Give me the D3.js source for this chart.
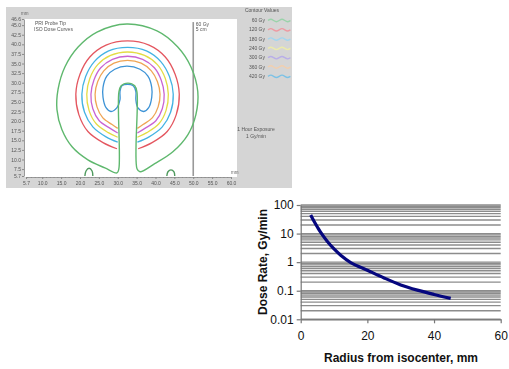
<!DOCTYPE html>
<html>
<head>
<meta charset="utf-8">
<script src="https://cdn.jsdelivr.net/npm/d3@7"></script>
<style>
  html, body { margin: 0; padding: 0; background: #fff; }
  svg { display: block; font-family: "Liberation Sans", Arial, sans-serif; }
</style>
</head>
<body>
<svg id="chart" width="509" height="369"></svg>
<script>
// ---- iso dose contour panel (all positions in mm) ----
const contourLabels = ['60 Gy', '120 Gy', '180 Gy', '240 Gy', '300 Gy', '360 Gy', '420 Gy'];
const contourColors = ['#5fb86e', '#e4565f', '#43b3e3', '#e3dc45', '#c964d2', '#efa455', '#3d93d6'];
const legendColors = ['#9ad3aa', '#ee9aa2', '#a3d6ef', '#ecebab', '#b9aee8', '#f2cfae', '#7cc2e6'];
const xTicksMm = [5.7, 10, 15, 20, 25, 30, 35, 40, 45, 50, 55, 60];
const yTicksMm = [5.7, 7.5, 10, 12.5, 15, 17.5, 20, 22.5, 25, 27.5, 30, 32.5, 35, 37.5, 40, 42.5, 45, 46.6];

// 60 Gy line: outer ring joined to the probe outline
const contour60 = [[29.8, 6.5], [26.6, 7.8], [22.1, 9.9], [17.9, 13.3], [15.2, 17.8], [13.9, 23.0],
  [14.2, 28.3], [16.0, 34.1], [19.5, 39.3], [24.5, 43.2], [32.4, 45.3], [40.4, 43.5], [45.9, 39.3],
  [49.4, 34.1], [51.2, 27.7], [50.7, 21.7], [48.6, 16.5], [44.6, 12.0], [39.8, 8.9], [35.9, 6.8],
  [35.1, 7.6], [35.1, 27.5], [34.5, 29.2], [32.7, 29.9], [30.9, 29.2], [30.3, 27.5], [30.3, 7.6]];
const contour120 = [[29.8, 12.8], [26.1, 14.4], [22.1, 17.3], [19.7, 21.7], [18.9, 27.0], [20.0, 32.2],
  [22.6, 36.7], [26.9, 39.8], [32.6, 40.9], [38.3, 39.8], [42.6, 36.7], [45.2, 32.2], [46.3, 27.0],
  [45.5, 21.7], [43.1, 17.3], [39.1, 14.4], [35.4, 12.8]];
const contour180 = [[30.0, 14.5], [26.9, 15.9], [23.4, 18.5], [21.2, 22.3], [20.5, 27.0], [21.5, 31.6],
  [23.8, 35.5], [27.6, 38.3], [32.6, 39.2], [37.6, 38.3], [41.4, 35.5], [43.7, 31.6], [44.7, 27.0],
  [44.0, 22.3], [41.8, 18.5], [38.3, 15.9], [35.2, 14.5]];
const contour240 = [[30.0, 15.8], [27.5, 17.0], [24.3, 19.3], [22.4, 22.8], [21.8, 27.0], [22.6, 31.1],
  [24.7, 34.7], [28.1, 37.1], [32.6, 38.0], [37.1, 37.1], [40.5, 34.7], [42.6, 31.1], [43.4, 27.0],
  [42.8, 22.8], [40.9, 19.3], [37.7, 17.0], [35.2, 15.8]];
const contour300 = [[30.0, 16.9], [28.0, 18.1], [25.1, 20.1], [23.4, 23.2], [22.9, 27.0], [23.7, 30.7],
  [25.5, 33.9], [28.6, 36.1], [32.6, 36.9], [36.6, 36.1], [39.7, 33.9], [41.5, 30.7], [42.3, 27.0],
  [41.8, 23.2], [40.1, 20.1], [37.2, 18.1], [35.2, 16.9]];
const contour360 = [[30.0, 18.1], [28.5, 19.1], [26.0, 20.9], [24.5, 23.7], [24.0, 27.0], [24.7, 30.3],
  [26.3, 33.1], [29.0, 35.1], [32.6, 35.8], [36.2, 35.1], [38.9, 33.1], [40.5, 30.3], [41.2, 27.0],
  [40.7, 23.7], [39.2, 20.9], [36.7, 19.1], [35.2, 18.1]];
const contour420 = [[30.6, 25.6], [29.8, 23.5], [28.2, 22.5], [26.9, 23.5], [26.1, 26.2], [26.1, 28.8],
  [27.1, 31.7], [29.2, 33.5], [32.4, 34.3], [35.9, 33.5], [38.0, 31.7], [39.0, 28.8], [39.0, 26.2],
  [38.2, 23.5], [36.9, 22.5], [35.3, 23.5], [34.8, 25.6], [34.8, 27.7], [34.1, 29.2], [32.6, 29.6],
  [31.1, 29.2], [30.6, 27.7]];
const spotLeft = [[21.3, 5.7], [21.6, 7.0], [22.4, 7.7], [23.2, 7.0], [23.4, 5.7]];
const spotRight = [[43.0, 5.7], [43.3, 6.8], [44.1, 7.3], [44.9, 6.8], [45.1, 5.7]];
const scaleBarMm = 50;

// ---- dose rate vs radius ----
const radiusMm = [3, 4, 5, 6, 8, 10, 12, 15, 20, 25, 30, 35, 40, 45];
const doseRate = [45, 27, 17, 11, 5.3, 2.9, 1.75, 0.97, 0.52, 0.28, 0.16, 0.105, 0.074, 0.054];
const doseTicks = [100, 10, 1, 0.1, 0.01];
const doseTickLabels = ['100', '10', '1', '0.1', '0.01'];
const radiusTicks = [0, 20, 40, 60];

const svg = d3.select('#chart');

// ================= contour screenshot panel =================
const defs = svg.append('defs');
defs.append('filter').attr('id', 'soft')
  .append('feGaussianBlur').attr('stdDeviation', 0.3);

const panel = svg.append('g').attr('filter', 'url(#soft)');
panel.append('rect')
  .attr('x', 6).attr('y', 7).attr('width', 286).attr('height', 181)
  .attr('fill', '#d5d5d5');
panel.append('rect')
  .attr('x', 24).attr('y', 19).attr('width', 213).attr('height', 158)
  .attr('fill', '#fff');

const xMm = d3.scaleLinear().domain([5.7, 60]).range([26, 231]);
const yMm = d3.scaleLinear().domain([5.7, 46.6]).range([176, 19]);

const yAxisMm = panel.append('g')
  .attr('transform', 'translate(24,0)')
  .call(d3.axisLeft(yMm).tickValues(yTicksMm).tickSize(2).tickSizeOuter(0).tickPadding(1)
    .tickFormat(d3.format('.1f')));
const xAxisMm = panel.append('g')
  .attr('transform', 'translate(0,177)')
  .call(d3.axisBottom(xMm).tickValues(xTicksMm).tickSize(2).tickSizeOuter(0).tickPadding(2)
    .tickFormat(d3.format('.1f')));
panel.append('g')
  .attr('transform', 'translate(0,177)')
  .call(d3.axisBottom(xMm).tickValues(d3.range(6, 61, 1)).tickSize(1).tickFormat(''))
  .call(g => g.select('.domain').remove());
[yAxisMm, xAxisMm].forEach(a => {
  a.select('.domain').attr('stroke', '#9a9a9a');
  a.selectAll('.tick text').attr('font-size', 5).attr('fill', '#555')
    .attr('font-family', '"Liberation Sans", Arial, sans-serif');
});
panel.selectAll('.tick line').attr('stroke', '#8a8a8a');

panel.append('text').attr('x', 21).attr('y', 15).attr('font-size', 4.5).attr('fill', '#666').text('mm');
panel.append('text').attr('x', 231).attr('y', 174).attr('font-size', 4.5).attr('fill', '#666').text('mm');
panel.append('text').attr('x', 35).attr('y', 25).attr('font-size', 5).attr('fill', '#555').text('PRI Probe Tip');
panel.append('text').attr('x', 34).attr('y', 31).attr('font-size', 5).attr('fill', '#555').text('ISO Dose Curves');

// 5 cm scale bar
panel.append('line')
  .attr('x1', xMm(scaleBarMm)).attr('x2', xMm(scaleBarMm))
  .attr('y1', yMm(45.8)).attr('y2', yMm(5.7))
  .attr('stroke', '#999').attr('stroke-width', 1.6);
panel.append('text').attr('x', xMm(scaleBarMm) + 2.5).attr('y', 25.5).attr('font-size', 5).attr('fill', '#555').text('60 Gy');
panel.append('text').attr('x', xMm(scaleBarMm) + 2.5).attr('y', 31).attr('font-size', 5).attr('fill', '#555').text('5 cm');

const openCurve = d3.line().x(d => xMm(d[0])).y(d => yMm(d[1])).curve(d3.curveCatmullRom.alpha(0.5));
const closedCurve = d3.line().x(d => xMm(d[0])).y(d => yMm(d[1])).curve(d3.curveCatmullRomClosed.alpha(0.5));

const openContours = [contour120, contour180, contour240, contour300, contour360];
panel.selectAll('path.ring')
  .data(openContours)
  .enter().append('path')
  .attr('class', 'ring')
  .attr('d', openCurve)
  .attr('fill', 'none')
  .attr('stroke', (d, i) => contourColors[i + 1])
  .attr('stroke-width', 1.3);
panel.append('path')
  .datum(contour420)
  .attr('d', closedCurve)
  .attr('fill', 'none').attr('stroke', contourColors[6]).attr('stroke-width', 1.3);
panel.append('path')
  .datum(contour60)
  .attr('d', closedCurve)
  .attr('fill', 'none').attr('stroke', contourColors[0]).attr('stroke-width', 1.4);
panel.selectAll('path.spot')
  .data([spotLeft, spotRight])
  .enter().append('path')
  .attr('class', 'spot')
  .attr('d', openCurve)
  .attr('fill', 'none').attr('stroke', '#4f9a5e').attr('stroke-width', 1.4);

// legend
panel.append('text').attr('x', 262).attr('y', 12).attr('text-anchor', 'middle')
  .attr('font-size', 5).attr('fill', '#555').text('Contour Values');
const legendRow = panel.selectAll('g.leg')
  .data(contourLabels)
  .enter().append('g')
  .attr('class', 'leg')
  .attr('transform', (d, i) => `translate(0,${20.5 + i * 9.3})`);
legendRow.append('text')
  .attr('x', 265).attr('y', 1.5).attr('text-anchor', 'end')
  .attr('font-size', 5).attr('fill', '#555').text(d => d);
const wave = d3.line().curve(d3.curveBasis);
legendRow.append('path')
  .attr('d', wave(d3.range(0, 9).map(k => [268 + k * 2.8, (k % 4 === 1) ? -1.8 : (k % 4 === 3 ? 1.8 : 0)])))
  .attr('fill', 'none')
  .attr('stroke', (d, i) => legendColors[i])
  .attr('stroke-width', 1.4);
panel.append('text').attr('x', 256).attr('y', 131).attr('text-anchor', 'middle')
  .attr('font-size', 5).attr('fill', '#555').text('1 Hour Exposure');
panel.append('text').attr('x', 256).attr('y', 138).attr('text-anchor', 'middle')
  .attr('font-size', 5).attr('fill', '#555').text('1 Gy/min');

// ================= dose rate chart =================
const x = d3.scaleLinear().domain([0, 60]).range([300.7, 500.7]);
const y = d3.scaleLog().domain([0.01, 100]).range([319.3, 205]);

// gridlines at every 1..9 x 10^k
const gridValues = [];
[0.01, 0.1, 1, 10].forEach(base => d3.range(1, 10).forEach(m => gridValues.push(base * m)));
gridValues.push(100);
svg.append('g')
  .selectAll('line')
  .data(gridValues)
  .enter().append('line')
  .attr('x1', x(0)).attr('x2', x(60))
  .attr('y1', d => y(d)).attr('y2', d => y(d))
  .attr('stroke', '#8c8c8c')
  .attr('stroke-width', 1.4);

const yAxis = svg.append('g')
  .attr('transform', `translate(${x(0)},0)`)
  .call(d3.axisLeft(y).tickValues(doseTicks).tickSize(4).tickSizeOuter(0).tickPadding(3)
    .tickFormat((d, i) => doseTickLabels[i]));
const xAxis = svg.append('g')
  .attr('transform', `translate(0,${y(0.01)})`)
  .call(d3.axisBottom(x).tickValues(radiusTicks).tickSize(4).tickSizeOuter(0).tickPadding(8));
[yAxis, xAxis].forEach(a => {
  a.select('.domain').attr('stroke', '#777').attr('stroke-width', 1.2);
  a.selectAll('.tick line').attr('stroke', '#777').attr('stroke-width', 1.2);
  a.selectAll('.tick text').attr('font-size', 12).attr('fill', '#111')
    .attr('font-family', '"Liberation Sans", Arial, sans-serif');
});

svg.append('path')
  .datum(radiusMm.map((r, i) => [r, doseRate[i]]))
  .attr('d', d3.line().x(d => x(d[0])).y(d => y(d[1])).curve(d3.curveCatmullRom.alpha(0.5)))
  .attr('fill', 'none')
  .attr('stroke', '#05067e')
  .attr('stroke-width', 3.2)
  .attr('stroke-linecap', 'butt');

svg.append('text')
  .attr('x', 401).attr('y', 362)
  .attr('text-anchor', 'middle')
  .attr('font-size', 12).attr('font-weight', 'bold').attr('fill', '#111')
  .text('Radius from isocenter, mm');
svg.append('text')
  .attr('transform', 'translate(267,262) rotate(-90)')
  .attr('text-anchor', 'middle')
  .attr('font-size', 12).attr('font-weight', 'bold').attr('fill', '#111')
  .text('Dose Rate, Gy/min');
</script>
</body>
</html>
